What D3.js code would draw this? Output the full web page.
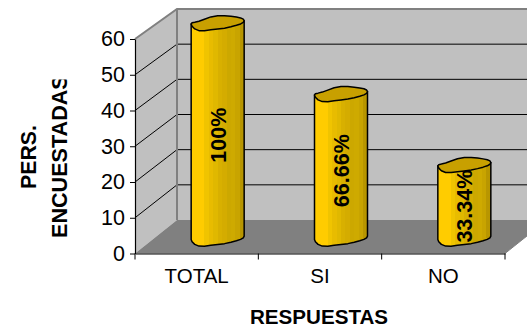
<!DOCTYPE html>
<html>
<head>
<meta charset="utf-8">
<script src="https://cdn.jsdelivr.net/npm/d3@7"></script>
<style>
html, body { margin: 0; padding: 0; background: #fff; overflow: hidden; }
svg { display: block; }
text { font-family: "Liberation Sans", Arial, sans-serif; fill: #000; }
</style>
</head>
<body>
<svg id="chart" width="527" height="329"></svg>
<script>
var categories = ["TOTAL", "SI", "NO"];
var values = [60, 40, 20];
var barLabels = ["100%", "66.66%", "33.34%"];
var yTicks = [0, 10, 20, 30, 40, 50, 60];
var yTitle = ["PERS.", "ENCUESTADAS"];
var xTitle = "RESPUESTAS";

var svg = d3.select("#chart");

var x = d3.scaleBand().domain(categories).range([135, 505]);
var y = d3.scaleLinear().domain([0, 60]).range([253.5, 39]);
// same values on the back wall of the fake 3d box
var yBack = d3.scaleLinear().domain([0, 60]).range([220, 9]);

var depthX = 42;

var wallColor = "#C0C0C0";
var floorColor = "#808080";
var edgeColor = "#808080";

var defs = svg.append("defs");

//////// stepped shading of the cylinders
var bands = ["#FFCC00", "#FFCC00", "#FFCC00", "#F0C400", "#E8BC00", "#E0B800", "#D8B000", "#D4AC00", "#CCA800", "#CEAA00", "#C8A400", "#B89600"];
var grad = defs.append("linearGradient").attr("id", "barShade");
bands.forEach(function(c, i) {
	grad.append("stop").attr("offset", i / bands.length).attr("stop-color", c);
	grad.append("stop").attr("offset", (i + 1) / bands.length).attr("stop-color", c);
});

defs.append("clipPath").attr("id", "titleClip")
	.append("rect").attr("x", 0).attr("y", 79.5).attr("width", 100).attr("height", 200);

//////// walls and floor
var x0 = x.range()[0], x1 = x.range()[1];
var yBase = y(0), yTop = y(60);

function poly(points, fill) {
	return svg.append("path")
		.attr("d", d3.line()(points) + "Z")
		.attr("fill", fill);
}

poly([[x0 + depthX, yBack(60)], [x1 + depthX, yBack(60)], [x1 + depthX, yBack(0)], [x0 + depthX, yBack(0)]], wallColor);
poly([[x0, yTop], [x0 + depthX, yBack(60)], [x0 + depthX, yBack(0)], [x0, yBase]], wallColor);
poly([[x0, yBase], [x1, yBase], [x1 + depthX, yBack(0)], [x0 + depthX, yBack(0)]], floorColor);

//////// gridlines
svg.append("g").selectAll("path")
	.data(yTicks.filter(function(d) { return d > 0 && d < 60; }))
	.enter().append("path")
	.attr("d", function(d) {
		return d3.line()([[x0, y(d)], [x0 + depthX, yBack(d)], [x1 + depthX, yBack(d)]]);
	})
	.attr("fill", "none")
	.attr("stroke", "#000")
	.attr("stroke-width", 1);

svg.append("path")
	.attr("d", d3.line()([[x0, yTop], [x0 + depthX, yBack(60)], [x1 + depthX, yBack(60)]]))
	.attr("fill", "none").attr("stroke", edgeColor).attr("stroke-width", 2);
svg.append("path")
	.attr("d", d3.line()([[x0 + depthX, yBack(60)], [x0 + depthX, yBack(0)]]))
	.attr("fill", "none").attr("stroke", edgeColor).attr("stroke-width", 2);
svg.append("path")
	.attr("d", d3.line()([[x1, yBase], [x1 + depthX, yBack(0)]]))
	.attr("fill", "none").attr("stroke", edgeColor).attr("stroke-width", 1);

//////// cylinders
var barWidth = 53;
var ringH = 6.7;
var bottomDrop = 2.7;

// lumpy tilted ellipse rim, t in radians
function rim(cx, cy, t) {
	var c = Math.cos(t), s = Math.sin(t);
	var lump = Math.pow(Math.sin(2 * t), 2);
	return [
		cx + barWidth / 2 * c,
		cy + ringH * s - 1.65 - 1.65 * c + (c < 0 ? 2.4 * lump : -0.85 * s * lump)
	];
}

function rimPoints(cx, cy, from, to, n) {
	return d3.range(n + 1).map(function(i) {
		return rim(cx, cy, from + (to - from) * i / n);
	});
}

var bars = svg.append("g").selectAll("g")
	.data(categories)
	.enter().append("g");

function barCx(d) { return x(d) + x.bandwidth() / 2 + depthX / 2; }
function barTop(i) { return (y(values[i]) + yBack(values[i])) / 2; }
function barBottom() { return (y(0) + yBack(0)) / 2 + bottomDrop; }

bars.append("path")
	.attr("d", function(d, i) {
		var cx = barCx(d);
		var topEdge = rim(cx, barTop(i), Math.PI);
		var front = rimPoints(cx, barBottom(), Math.PI, 0, 12);
		var topRight = rim(cx, barTop(i), 0);
		return d3.line()([topEdge].concat(front).concat([topRight])) + "Z";
	})
	.attr("fill", "url(#barShade)")
	.attr("stroke", "#000")
	.attr("stroke-width", 1.5)
	.attr("stroke-linejoin", "round");

bars.append("path")
	.attr("d", function(d, i) {
		return d3.line()(rimPoints(barCx(d), barTop(i), 0, 2 * Math.PI, 24)) + "Z";
	})
	.attr("fill", "#C8A000")
	.attr("stroke", "#000")
	.attr("stroke-width", 1.5)
	.attr("stroke-linejoin", "round");

//////// axes
var yAxis = d3.axisLeft(y).tickValues(yTicks).tickSize(5).tickPadding(5).tickSizeOuter(0);
var gY = svg.append("g").attr("transform", "translate(" + x0 + ",0)").call(yAxis);

var xAxis = d3.axisBottom(x).tickSize(0).tickPadding(15);
var gX = svg.append("g").attr("transform", "translate(0," + yBase + ")").call(xAxis);

gX.selectAll("line.edge")
	.data(x.domain().concat(["end"]))
	.enter().append("line")
	.attr("class", "edge")
	.attr("x1", function(d) { return d == "end" ? x1 : x(d); })
	.attr("x2", function(d) { return d == "end" ? x1 : x(d); })
	.attr("y1", 0).attr("y2", 6)
	.attr("stroke", "#000");

svg.selectAll(".domain").attr("stroke", "#000").attr("stroke-width", 1.2);
svg.selectAll(".tick line").attr("stroke", "#000");
gY.selectAll("text").style("font-size", "21.5px").style("fill", "#000");
gX.selectAll("text").style("font-size", "20.5px").style("fill", "#000");
gY.attr("font-family", null).attr("font-size", null);
gX.attr("font-family", null).attr("font-size", null);

//////// bar labels
bars.append("text")
	.attr("transform", function(d, i) {
		var cy = (barTop(i) + barBottom()) / 2 + 3.5;
		return "translate(" + (barCx(d) + 1) + "," + cy + ") rotate(-90)";
	})
	.attr("text-anchor", "middle")
	.attr("dominant-baseline", "central")
	.style("font-size", "21.5px")
	.style("font-weight", "bold")
	.text(function(d, i) { return barLabels[i]; });

//////// titles
var titleG = svg.append("g").attr("clip-path", "url(#titleClip)");
titleG.append("text")
	.attr("transform", "translate(36,157) rotate(-90)")
	.attr("text-anchor", "middle")
	.style("font-size", "21.3px").style("font-weight", "bold")
	.text(yTitle[0]);
titleG.append("text")
	.attr("transform", "translate(67,238) rotate(-90)")
	.style("font-size", "21.6px").style("font-weight", "bold")
	.text(yTitle[1]);

svg.append("text")
	.attr("x", 319).attr("y", 324)
	.attr("text-anchor", "middle")
	.style("font-size", "20.6px").style("font-weight", "bold")
	.text(xTitle);
</script>
</body>
</html>
